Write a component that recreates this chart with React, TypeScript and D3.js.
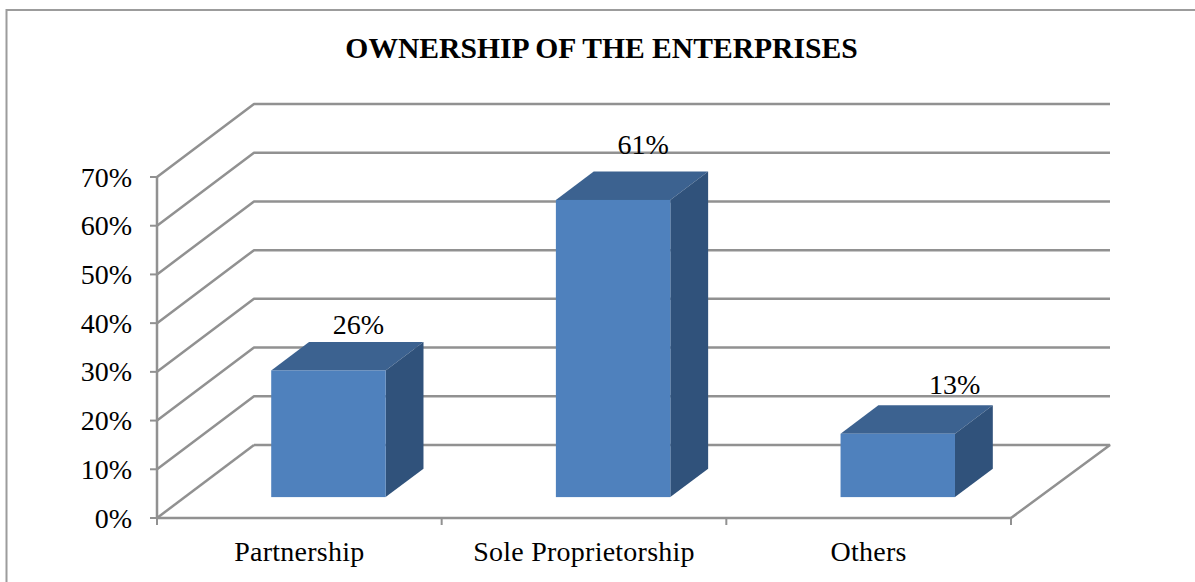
import React from "react";
import * as d3 from "d3";

const title = "OWNERSHIP OF THE ENTERPRISES";
const categories = ["Partnership", "Sole Proprietorship", "Others"];
const shares = [0.26, 0.61, 0.13];
const shareLabels = ["26%", "61%", "13%"];
const yTicks = [0, 0.1, 0.2, 0.3, 0.4, 0.5, 0.6, 0.7];

const W = 1195;
const H = 582;
const GRID = "#919191";
const FRONT = "#4f81bd";
const TOP = "#3c6290";
const SIDE = "#30527b";
const SERIF = "'Liberation Serif', serif";

// Oblique projection of the floor: depth 0 is the front edge, depth 1 the back wall.
const DEPTH_X = 97;
const DEPTH_Y = -73;
const BACK_RIGHT = 1110;
const BAR_NEAR = 0.3;
const BAR_FAR = 0.69;

// Hand placement of each value label relative to the bar's front-face centre and back-top edge.
const labelNudgeX = [30, 30, 57];
const labelNudgeY = [-8, -17, -11];

const x = d3.scaleBand<string>().domain(categories).range([157, 1011]);
const y = d3.scaleLinear().domain([0, 0.7]).range([518, 177]);
const percent = d3.format(".0%");
const pts = (p: [number, number][]) => p.map((q) => q.join(",")).join(" ");

export default function App() {
  const barWidth = x.bandwidth() * 0.402;
  const [x0, x1] = x.range();
  const base = y(0);
  const backLeft = x0 + DEPTH_X;
  return (
    <svg
      width={W}
      height={H}
      viewBox={`0 0 ${W} ${H}`}
      style={{ position: "absolute", left: 0, top: 0, background: "#fff" }}
    >
      {/* chart frame, running off the right and bottom edges */}
      <path d={`M6.5 ${H} V10 H${W}`} fill="none" stroke="#9c9c9c" strokeWidth={2} />

      <text x={601.5} y={58} textAnchor="middle" fontFamily={SERIF} fontWeight="bold" fontSize={29.6} fill="#000">
        {title}
      </text>

      {/* gridlines: side wall and back wall */}
      <g fill="none" stroke={GRID} strokeWidth={2.5} strokeLinejoin="bevel">
        {yTicks.map((t) => (
          <polyline
            key={t}
            points={pts(
              t === 0
                ? [[x0, y(t)], [backLeft, y(t) + DEPTH_Y]]
                : [[x0, y(t)], [backLeft, y(t) + DEPTH_Y], [BACK_RIGHT, y(t) + DEPTH_Y]],
            )}
          />
        ))}
        <polyline points={pts([[backLeft, base + DEPTH_Y], [BACK_RIGHT, base + DEPTH_Y], [x1, base]])} />
        <line x1={x0} x2={x0} y1={y(0.7)} y2={base} />
        <line x1={x0} x2={x1} y1={base} y2={base} />
        {yTicks.map((t) => (
          <line key={t} x1={x0 - 7} x2={x0} y1={y(t)} y2={y(t)} strokeWidth={2} />
        ))}
        {[...categories.map((c) => x(c)!), x1].map((v) => (
          <line key={v} x1={v} x2={v} y1={base} y2={base + 7} strokeWidth={2} />
        ))}
      </g>

      {/* value axis labels */}
      <g fontFamily={SERIF} fontSize={28} fill="#000" textAnchor="end">
        {yTicks.map((t) => (
          <text key={t} x={132} y={y(t) + 9.5}>
            {percent(t)}
          </text>
        ))}
      </g>

      {/* 3D bars */}
      {categories.map((c, i) => {
        const cx = x(c)! + x.bandwidth() / 2 + DEPTH_X * BAR_NEAR;
        const left = cx - barWidth / 2;
        const right = cx + barWidth / 2;
        const bottom = base + DEPTH_Y * BAR_NEAR + 1;
        const top = bottom - (y(0) - y(shares[i]));
        const dx = DEPTH_X * (BAR_FAR - BAR_NEAR);
        const dy = DEPTH_Y * (BAR_FAR - BAR_NEAR);
        return (
          <g key={c}>
            <polygon points={pts([[left, top], [left + dx, top + dy], [right + dx, top + dy], [right, top]])} fill={TOP} />
            <polygon points={pts([[right, top], [right + dx, top + dy], [right + dx, bottom + dy], [right, bottom]])} fill={SIDE} />
            <rect x={left} y={top} width={barWidth} height={bottom - top} fill={FRONT} />
            <text
              x={cx + labelNudgeX[i]}
              y={top + dy + labelNudgeY[i]}
              textAnchor="middle"
              fontFamily={SERIF}
              fontSize={28}
              fill="#000"
            >
              {shareLabels[i]}
            </text>
          </g>
        );
      })}

      {/* category labels */}
      <g fontFamily={SERIF} fontSize={28} letterSpacing={0.25} fill="#000" textAnchor="middle">
        {categories.map((c) => (
          <text key={c} x={x(c)! + x.bandwidth() / 2} y={561}>
            {c}
          </text>
        ))}
      </g>
    </svg>
  );
}
